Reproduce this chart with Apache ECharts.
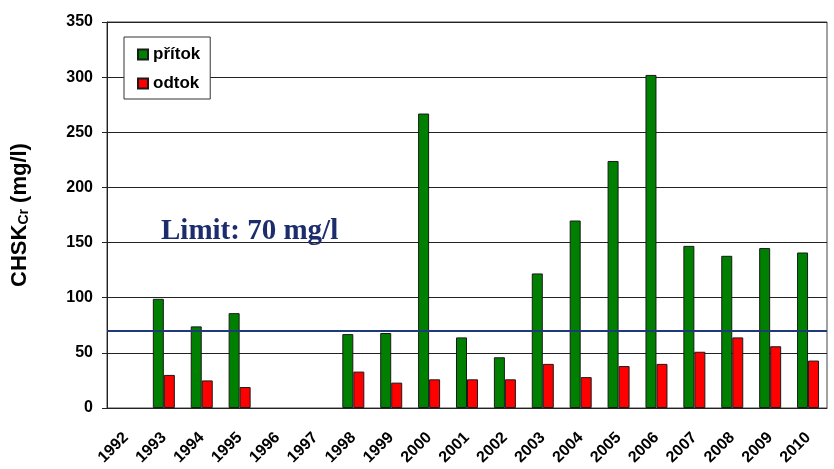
<!DOCTYPE html>
<html><head><meta charset="utf-8">
<script src="https://cdn.jsdelivr.net/npm/echarts@6/dist/echarts.min.js"></script>
<style>html,body{margin:0;padding:0;background:#fff}#c{width:834px;height:469px}</style>
</head><body><div id="c"></div>
<script>
const years = ['1992','1993','1994','1995','1996','1997','1998','1999','2000','2001','2002','2003','2004','2005','2006','2007','2008','2009','2010'];
const pritok = [null,99,74,86,null,null,67,68,267,64,46,122,170,224,302,147,138,145,141];
const odtok  = [null,30,25,19,null,null,33,23,26,26,26,40,28,38,40,51,64,56,43];
const limitValue = 70;
const yTicks = [0,50,100,150,200,250,300,350];

const chart = echarts.init(document.getElementById('c'));
chart.setOption({
  animation:false,
  backgroundColor:'#fff',
  textStyle:{fontFamily:'Liberation Sans, Arial, sans-serif'},
  title:{text:'Limit: ' + limitValue + ' mg/l', left:161, top:217, padding:0,
    textStyle:{fontFamily:'Liberation Serif, Times New Roman, serif', fontWeight:'bold', fontSize:29, color:'#1c2c6c'}},
  legend:{orient:'vertical', left:124, top:37, padding:[9,10,7,13], itemGap:12,
    itemWidth:10, itemHeight:10, borderColor:'#333', borderWidth:1, backgroundColor:'#fff',
    textStyle:{fontSize:17, fontWeight:'bold', color:'#000', padding:[0,0,0,0]},
    data:[{name:'přítok', icon:'rect'},{name:'odtok', icon:'rect'}]},
  grid:{left:107, right:7, top:22, bottom:61, show:true, borderColor:'#444', borderWidth:1},
  xAxis:{type:'category', data:years,
    axisLine:{lineStyle:{color:'#222', width:1}}, axisTick:{show:false},
    axisLabel:{rotate:45, fontSize:16, fontWeight:'bold', color:'#000', margin:27, interval:0}},
  yAxis:{type:'value', min:yTicks[0], max:yTicks[yTicks.length-1], interval:50,
    name:'{a|CHSK}{b|Cr}{a| (mg/l)}', nameLocation:'middle', nameGap:76, nameRotate:90,
    nameTextStyle:{rich:{
      a:{fontSize:22, fontWeight:'bold', color:'#000', fontFamily:'Liberation Sans, Arial'},
      b:{fontSize:14, fontWeight:'bold', color:'#000', fontFamily:'Liberation Sans, Arial', verticalAlign:'bottom', padding:[9,0,0,0]}}},
    axisLine:{show:true, lineStyle:{color:'#222'}},
    axisTick:{show:true, length:5, lineStyle:{color:'#222'}},
    axisLabel:{fontSize:16, fontWeight:'bold', color:'#000', margin:14},
    splitLine:{lineStyle:{color:'#222', width:1}}},
  series:[
    {name:'přítok', type:'bar', data:pritok, barWidth:11, barGap:'0%',
     itemStyle:{color:'#008000', borderColor:'#1a1a1a', borderWidth:1},
     markLine:{silent:true, symbol:'none', label:{show:false},
       lineStyle:{color:'#1f3a78', width:2, type:'solid'}, data:[{yAxis:limitValue}]}},
    {name:'odtok', type:'bar', data:odtok, barWidth:11,
     itemStyle:{color:'#ff0000', borderColor:'#1a1a1a', borderWidth:1}}
  ]
});
</script></body></html>
